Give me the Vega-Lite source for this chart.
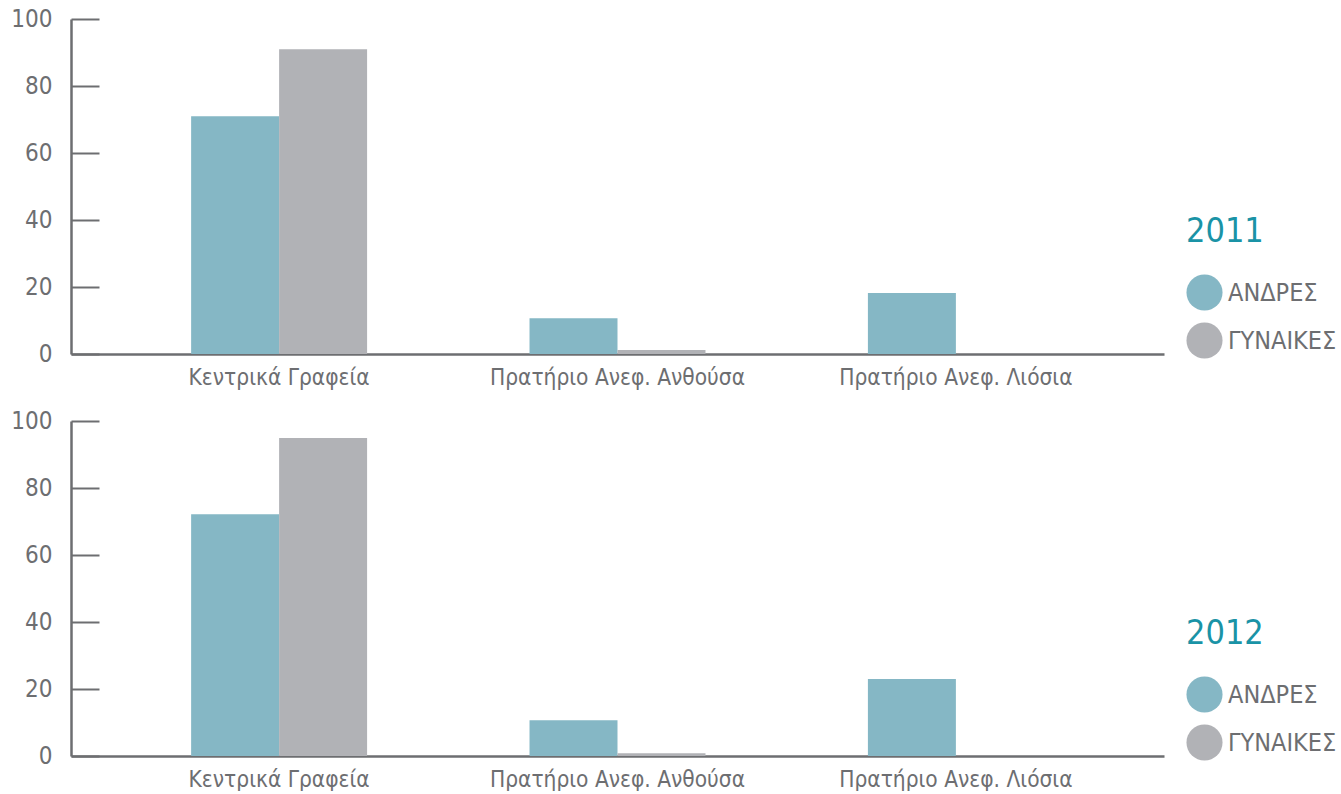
{
  "$schema": "https://vega.github.io/schema/vega-lite/v6.json",
  "padding": {"left": 10, "top": 7, "right": 0, "bottom": 0},
  "background": "white",
  "spacing": 20,
  "datasets": {
    "y2011": [
      {"site": "Κεντρικά Γραφεία", "sex": "ΑΝΔΡΕΣ", "value": 71},
      {"site": "Κεντρικά Γραφεία", "sex": "ΓΥΝΑΙΚΕΣ", "value": 91},
      {"site": "Πρατήριο Ανεφ. Ανθούσα", "sex": "ΑΝΔΡΕΣ", "value": 10.7},
      {"site": "Πρατήριο Ανεφ. Ανθούσα", "sex": "ΓΥΝΑΙΚΕΣ", "value": 1.2},
      {"site": "Πρατήριο Ανεφ. Λιόσια", "sex": "ΑΝΔΡΕΣ", "value": 18.2},
      {"site": "Πρατήριο Ανεφ. Λιόσια", "sex": "ΓΥΝΑΙΚΕΣ", "value": 0}
    ],
    "y2012": [
      {"site": "Κεντρικά Γραφεία", "sex": "ΑΝΔΡΕΣ", "value": 72.2},
      {"site": "Κεντρικά Γραφεία", "sex": "ΓΥΝΑΙΚΕΣ", "value": 94.9},
      {"site": "Πρατήριο Ανεφ. Ανθούσα", "sex": "ΑΝΔΡΕΣ", "value": 10.7},
      {"site": "Πρατήριο Ανεφ. Ανθούσα", "sex": "ΓΥΝΑΙΚΕΣ", "value": 0.8},
      {"site": "Πρατήριο Ανεφ. Λιόσια", "sex": "ΑΝΔΡΕΣ", "value": 23},
      {"site": "Πρατήριο Ανεφ. Λιόσια", "sex": "ΓΥΝΑΙΚΕΣ", "value": 0}
    ]
  },
  "config": {
    "view": {"stroke": null},
    "font": "DejaVu Sans Condensed, Roboto, sans-serif",
    "axis": {
      "domainColor": "#6d6e71",
      "domainWidth": 2.5,
      "tickColor": "#6d6e71",
      "tickWidth": 2,
      "labelColor": "#6d6e71",
      "labelFont": "DejaVu Sans Condensed, Roboto, sans-serif",
      "labelLimit": 0,
      "grid": false,
      "title": null
    }
  },
  "resolve": {"scale": {"color": "independent"}, "legend": {"color": "independent"}},
  "vconcat": [
    {
      "width": 1093,
      "height": 335,
      "data": {"name": "y2011"},
      "mark": {"type": "bar"},
      "encoding": {
        "x": {
          "field": "site", "type": "nominal", "sort": null,
          "scale": {"paddingInner": 0.48, "paddingOuter": 0.355},
          "axis": {"labelAngle": 0, "ticks": false, "labelFontSize": 22.5, "labelPadding": 12}
        },
        "xOffset": {"field": "sex", "type": "nominal", "scale": {"paddingInner": 0, "paddingOuter": 0}},
        "y": {
          "field": "value", "type": "quantitative",
          "scale": {"domain": [0, 100], "nice": false},
          "axis": {"values": [0, 20, 40, 60, 80, 100], "tickSize": -28, "labelPadding": 47, "labelFontSize": 24}
        },
        "color": {
          "field": "sex", "type": "nominal",
          "scale": {"domain": ["ΑΝΔΡΕΣ", "ΓΥΝΑΙΚΕΣ"], "range": ["#85b7c5", "#b1b2b6"]},
          "legend": {
            "title": "2011", "orient": "none", "legendX": 1115, "legendY": 196,
            "titleFontSize": 34, "titleColor": "#1a93a6", "titleFontWeight": "normal", "titlePadding": 25,
            "symbolType": "circle", "symbolSize": 1300, "symbolStrokeWidth": 0, "symbolOpacity": 1,
            "labelFontSize": 25, "labelColor": "#6d6e71", "labelOffset": 5, "rowPadding": 11, "labelLimit": 0
          }
        }
      }
    },
    {
      "width": 1093,
      "height": 335,
      "data": {"name": "y2012"},
      "mark": {"type": "bar"},
      "encoding": {
        "x": {
          "field": "site", "type": "nominal", "sort": null,
          "scale": {"paddingInner": 0.48, "paddingOuter": 0.355},
          "axis": {"labelAngle": 0, "ticks": false, "labelFontSize": 22.5, "labelPadding": 12}
        },
        "xOffset": {"field": "sex", "type": "nominal", "scale": {"paddingInner": 0, "paddingOuter": 0}},
        "y": {
          "field": "value", "type": "quantitative",
          "scale": {"domain": [0, 100], "nice": false},
          "axis": {"values": [0, 20, 40, 60, 80, 100], "tickSize": -28, "labelPadding": 47, "labelFontSize": 24}
        },
        "color": {
          "field": "sex", "type": "nominal",
          "scale": {"domain": ["ΑΝΔΡΕΣ", "ΓΥΝΑΙΚΕΣ"], "range": ["#85b7c5", "#b1b2b6"]},
          "legend": {
            "title": "2012", "orient": "none", "legendX": 1115, "legendY": 196,
            "titleFontSize": 34, "titleColor": "#1a93a6", "titleFontWeight": "normal", "titlePadding": 25,
            "symbolType": "circle", "symbolSize": 1300, "symbolStrokeWidth": 0, "symbolOpacity": 1,
            "labelFontSize": 25, "labelColor": "#6d6e71", "labelOffset": 5, "rowPadding": 11, "labelLimit": 0
          }
        }
      }
    }
  ]
}
